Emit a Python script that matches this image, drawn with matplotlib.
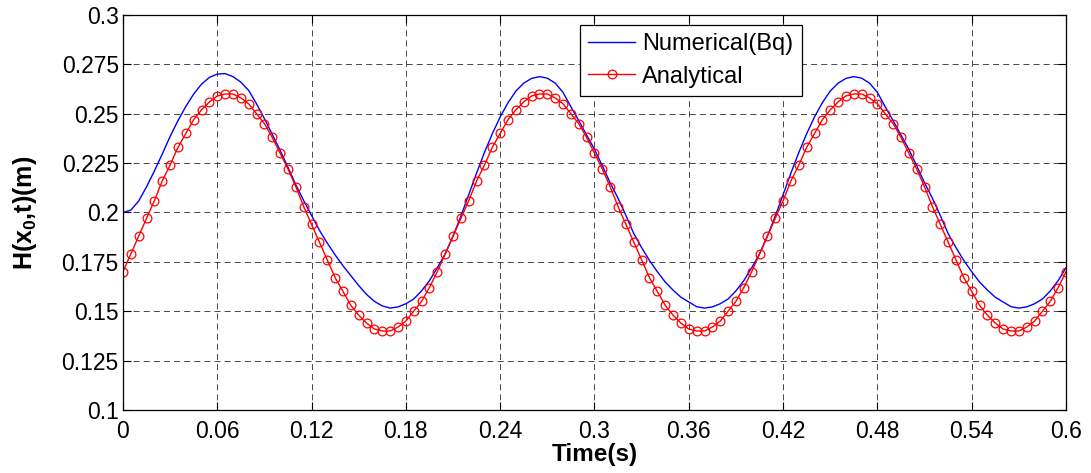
import numpy as np
import matplotlib
matplotlib.use('Agg')
import matplotlib.pyplot as plt

plt.rcParams['font.family'] = ['Liberation Sans', 'DejaVu Sans']
plt.rcParams['mathtext.fontset'] = 'custom'
plt.rcParams['mathtext.rm'] = 'Liberation Sans'
plt.rcParams['mathtext.bf'] = 'Liberation Sans:bold'

# Temps de mostreig (s), pas de 0.005
t = np.linspace(0.0, 0.6, 121)

# Solucio numerica (Bq), llegida del grafic
h_num = [0.2000, 0.2012, 0.2058, 0.2130, 0.2210, 0.2296, 0.2385, 0.2465, 0.2537, 0.2600,
         0.2650, 0.2684, 0.2701, 0.2703, 0.2688, 0.2660, 0.2618, 0.2550, 0.2475, 0.2395,
         0.2315, 0.2228, 0.2140, 0.2060, 0.1985, 0.1910, 0.1845, 0.1785, 0.1730, 0.1680,
         0.1630, 0.1585, 0.1550, 0.1527,
         0.1516, 0.1522, 0.1538, 0.1562, 0.1603, 0.1655, 0.1720, 0.1790, 0.1880, 0.1982,
         0.2090, 0.2200, 0.2304, 0.2399, 0.2484, 0.2556, 0.2615, 0.2655, 0.2679, 0.2688,
         0.2680, 0.2655, 0.2608, 0.2535, 0.2465, 0.2392, 0.2320, 0.2237, 0.2150, 0.2072,
         0.1985, 0.1893, 0.1822, 0.1757, 0.1700, 0.1648, 0.1607, 0.1571, 0.1547, 0.1523,
         0.1516, 0.1522, 0.1538, 0.1562, 0.1603, 0.1655, 0.1720, 0.1790, 0.1880, 0.1982,
         0.2090, 0.2200, 0.2304, 0.2399, 0.2484, 0.2556, 0.2615, 0.2655, 0.2679, 0.2688,
         0.2680, 0.2655, 0.2608, 0.2535, 0.2465, 0.2392, 0.2320, 0.2237, 0.2150, 0.2072,
         0.1985, 0.1893, 0.1822, 0.1757, 0.1700, 0.1648, 0.1607, 0.1571, 0.1547, 0.1523,
         0.1516, 0.1522, 0.1538, 0.1562, 0.1603, 0.1655, 0.1720]

# Solucio analitica, llegida del grafic
h_ana = [0.170, 0.179, 0.188, 0.197, 0.206, 0.216, 0.224, 0.233, 0.240, 0.247,
         0.252, 0.256, 0.259, 0.260, 0.260, 0.258, 0.255, 0.250, 0.245, 0.238,
         0.230, 0.222, 0.213, 0.203, 0.194, 0.185, 0.176, 0.167, 0.160, 0.153,
         0.148, 0.144, 0.141, 0.140, 0.140, 0.142, 0.145, 0.150, 0.155, 0.162,
         0.170, 0.179, 0.188, 0.197, 0.206, 0.216, 0.224, 0.233, 0.240, 0.247,
         0.252, 0.256, 0.259, 0.260, 0.260, 0.258, 0.255, 0.250, 0.245, 0.238,
         0.230, 0.222, 0.213, 0.203, 0.194, 0.185, 0.176, 0.167, 0.160, 0.153,
         0.148, 0.144, 0.141, 0.140, 0.140, 0.142, 0.145, 0.150, 0.155, 0.162,
         0.170, 0.179, 0.188, 0.197, 0.206, 0.216, 0.224, 0.233, 0.240, 0.247,
         0.252, 0.256, 0.259, 0.260, 0.260, 0.258, 0.255, 0.250, 0.245, 0.238,
         0.230, 0.222, 0.213, 0.203, 0.194, 0.185, 0.176, 0.167, 0.160, 0.153,
         0.148, 0.144, 0.141, 0.140, 0.140, 0.142, 0.145, 0.150, 0.155, 0.162,
         0.170]

# Etiquetes dels eixos
xticks = [0, 0.06, 0.12, 0.18, 0.24, 0.3, 0.36, 0.42, 0.48, 0.54, 0.6]
xticklabels = ['0', '0.06', '0.12', '0.18', '0.24', '0.3', '0.36', '0.42', '0.48', '0.54', '0.6']
yticks = [0.1, 0.125, 0.15, 0.175, 0.2, 0.225, 0.25, 0.275, 0.3]
yticklabels = ['0.1', '0.125', '0.15', '0.175', '0.2', '0.225', '0.25', '0.275', '0.3']

fig = plt.figure(figsize=(10.91, 4.73), dpi=100)
ax = fig.add_axes([0.1127, 0.1332, 0.8644, 0.8351])

ax.plot(t, h_num, '-', color='#0000ff', lw=1.0, label='Numerical(Bq)')
ax.plot(t, h_ana, '-o', color='#ff0000', lw=1.0, ms=6.3, mfc='none', mec='#ff0000', mew=0.9,
        label='Analytical')

ax.set_xlim(0, 0.6)
ax.set_ylim(0.1, 0.3)
ax.set_xticks(xticks)
ax.set_xticklabels(xticklabels)
ax.set_yticks(yticks)
ax.set_yticklabels(yticklabels)
ax.tick_params(direction='in', top=True, right=True, length=6, width=0.8, labelsize=16.5)
ax.tick_params(axis='x', pad=7)
ax.tick_params(axis='y', pad=3)

ax.grid(True, color='#1a1a1a', linestyle=(0, (6.2, 4.2)), lw=0.7, alpha=0.8)
for s in ax.spines.values():
    s.set_linewidth(0.9)

ax.set_xlabel('Time(s)', fontsize=17.5, fontweight='bold', labelpad=0)
ax.set_ylabel(r'H(x$_\mathbf{0}$,t)(m)', fontsize=18, fontweight='bold', labelpad=16)

leg = ax.legend(loc='upper left', bbox_to_anchor=(0.4843, 0.975), fontsize=17, fancybox=False,
                framealpha=1, edgecolor='k', borderpad=0.35, handlelength=2.0, handletextpad=0.3,
                labelspacing=0.45, borderaxespad=0)
leg.get_frame().set_linewidth(0.9)

plt.savefig('out.png', dpi=100)
